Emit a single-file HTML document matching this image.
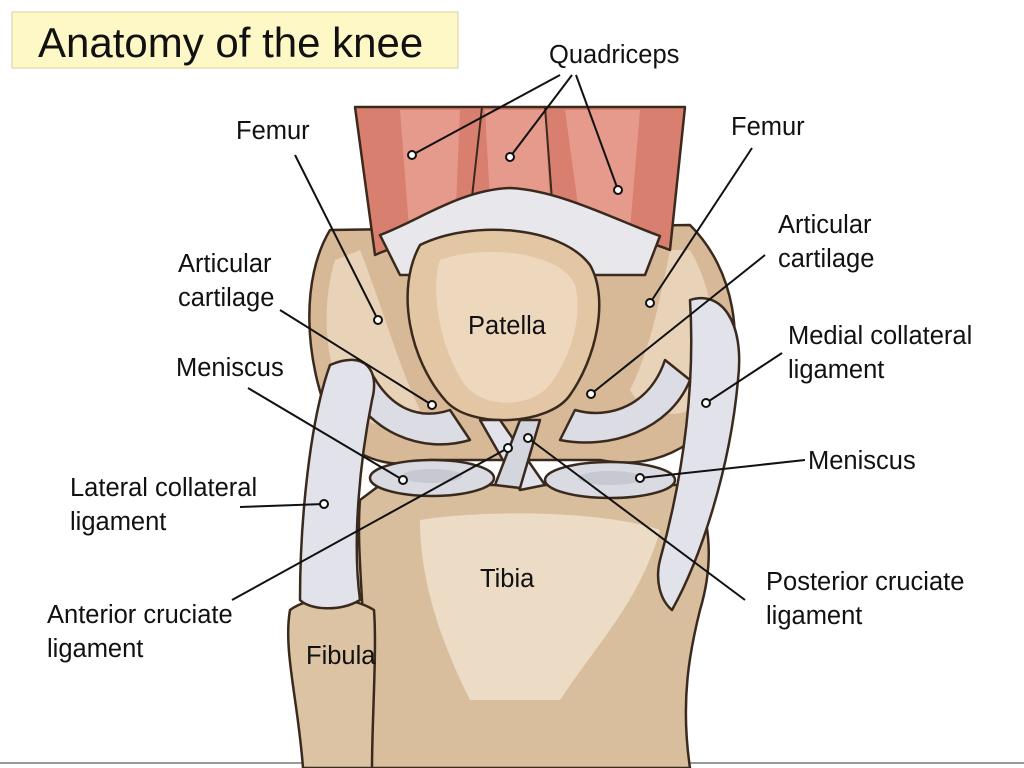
<!DOCTYPE html>
<html><head><meta charset="utf-8"><style>
html,body{margin:0;padding:0;background:#fff;width:1024px;height:768px;overflow:hidden}
svg{display:block}
text{font-family:"Liberation Sans",sans-serif;font-size:25.5px;fill:#111}
</style></head><body>
<svg width="1024" height="768" viewBox="0 0 1024 768">
<rect x="0" y="0" width="1024" height="768" fill="#fff"/>
<line x1="0" y1="763" x2="1024" y2="763" stroke="#999" stroke-width="2"/>
<rect x="12" y="12" width="446" height="56" fill="#fdf8c6" stroke="#d8d0a0" stroke-width="1"/>
<text x="38" y="57" style="font-size:42px">Anatomy of the knee</text>

<g stroke="#3a2a1e" stroke-width="2.5" stroke-linejoin="round">
<path d="M330,230 C300,280 305,360 330,420 C350,460 390,470 430,460 L600,460 C650,470 700,450 725,400 C745,340 735,270 690,225 Z" fill="#d7b998"/>
<path d="M335,260 C320,310 325,370 350,410 C370,430 400,430 420,410 C400,370 380,300 360,250 Z" fill="#e8d2b8" stroke="none"/>
<path d="M690,250 C720,300 720,370 690,410 C670,420 640,410 630,390 C650,350 660,300 670,250 Z" fill="#e8d2b8" stroke="none"/>
<path d="M360,500 C355,560 370,640 365,768 L690,768 C680,700 690,650 700,610 C715,560 710,510 690,485 L380,485 Z" fill="#d9be9e"/>
<path d="M420,520 C480,510 600,510 660,530 C640,600 600,640 560,700 L470,700 C440,640 420,580 420,520 Z" fill="#ecdcc6" stroke="none"/>
<path d="M290,610 C283,650 298,700 303,768 L372,768 C372,720 377,650 374,610 C350,595 310,595 290,610 Z" fill="#dcc3a3"/>
<path d="M355,107 L685,107 L670,250 C620,230 560,230 520,228 C470,228 420,235 375,255 Z" fill="#d97f70"/>
<path d="M400,110 L460,110 L455,230 L410,240 Z" fill="#e69a8c" stroke="none"/>
<path d="M485,110 L545,110 L550,210 L490,200 Z" fill="#e69a8c" stroke="none"/>
<path d="M565,110 L640,110 L630,230 L580,220 Z" fill="#e69a8c" stroke="none"/>
<line x1="482" y1="107" x2="470" y2="215" stroke-width="2"/>
<line x1="545" y1="107" x2="552" y2="200" stroke-width="2"/>
<path d="M380,235 C420,220 460,190 510,188 C560,190 620,222 660,236 L645,275 L400,275 Z" fill="#e8e8ec"/>
<path d="M420,245 C470,220 560,225 590,265 C610,300 595,360 570,395 C550,425 470,430 445,400 C410,360 395,290 420,245 Z" fill="#e3c6a4"/>
<path d="M440,260 C480,245 560,250 575,285 C585,320 565,370 545,390 C520,410 480,405 465,385 C440,350 430,290 440,260 Z" fill="#edd7bd" stroke="none"/>
<path d="M350,390 C370,430 420,455 470,440 L450,410 C420,420 390,410 370,370 Z" fill="#dcdde4"/>
<path d="M690,380 C670,430 610,450 560,440 L575,410 C610,420 650,405 665,360 Z" fill="#dcdde4"/>
<path d="M330,365 C365,350 380,370 372,400 C360,460 352,540 360,600 C340,612 310,610 300,600 C300,520 310,420 330,365 Z" fill="#e2e3ea"/>
<path d="M690,300 C720,290 745,320 738,380 C730,470 700,560 672,610 C660,600 655,580 660,560 C685,470 695,380 690,300 Z" fill="#e2e3ea"/>
<path d="M480,420 L500,420 L545,485 L520,490 Z" fill="#e2e3ea"/>
<path d="M540,420 L520,420 L495,485 L520,488 Z" fill="#d4d6de"/>
<ellipse cx="432" cy="478" rx="62" ry="18" fill="#d9dae2"/>
<ellipse cx="432" cy="476" rx="30" ry="7" fill="#c6c8d2" stroke="none"/>
<ellipse cx="610" cy="480" rx="65" ry="18" fill="#d9dae2"/>
<ellipse cx="610" cy="478" rx="32" ry="7" fill="#c6c8d2" stroke="none"/>
</g>

<g stroke="#111" stroke-width="2" fill="#fff">
<line x1="560" y1="75" x2="412" y2="155"/>
<line x1="572" y1="75" x2="510" y2="157"/>
<line x1="576" y1="75" x2="618" y2="190"/>
<line x1="295" y1="155" x2="378" y2="320"/>
<line x1="752" y1="148" x2="650" y2="303"/>
<line x1="280" y1="310" x2="432" y2="405"/>
<line x1="765" y1="255" x2="591" y2="394"/>
<line x1="782" y1="353" x2="706" y2="403"/>
<line x1="248" y1="388" x2="403" y2="480"/>
<line x1="805" y1="460" x2="640" y2="478"/>
<line x1="240" y1="507" x2="324" y2="504"/>
<line x1="232" y1="600" x2="508" y2="448"/>
<line x1="745" y1="600" x2="528" y2="438"/>
<circle cx="412" cy="155" r="4"/><circle cx="510" cy="157" r="4"/><circle cx="618" cy="190" r="4"/>
<circle cx="378" cy="320" r="4"/><circle cx="650" cy="303" r="4"/><circle cx="432" cy="405" r="4"/>
<circle cx="591" cy="394" r="4"/><circle cx="706" cy="403" r="4"/><circle cx="403" cy="480" r="4"/>
<circle cx="640" cy="478" r="4"/><circle cx="324" cy="504" r="4"/><circle cx="508" cy="448" r="4"/>
<circle cx="528" cy="438" r="4"/>
</g>

<text x="549" y="63">Quadriceps</text>
<text x="236" y="139">Femur</text>
<text x="731" y="135">Femur</text>
<text x="178" y="272">Articular</text>
<text x="178" y="306">cartilage</text>
<text x="778" y="233">Articular</text>
<text x="778" y="267">cartilage</text>
<text x="468" y="334">Patella</text>
<text x="176" y="376">Meniscus</text>
<text x="788" y="344">Medial collateral</text>
<text x="788" y="378">ligament</text>
<text x="808" y="469">Meniscus</text>
<text x="70" y="496">Lateral collateral</text>
<text x="70" y="530">ligament</text>
<text x="480" y="587">Tibia</text>
<text x="766" y="590">Posterior cruciate</text>
<text x="766" y="624">ligament</text>
<text x="47" y="623">Anterior cruciate</text>
<text x="47" y="657">ligament</text>
<text x="306" y="664">Fibula</text>
</svg>
</body></html>
